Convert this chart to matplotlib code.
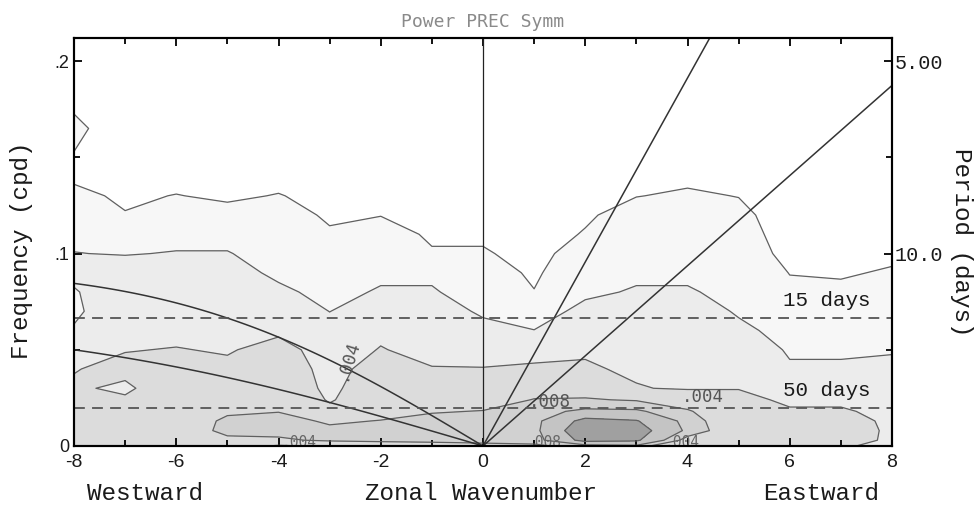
import numpy as np
import matplotlib
matplotlib.use("Agg")
import matplotlib.pyplot as plt

# wavenumber / frequency grid of the symmetric power spectrum (values in 1e-3)
wavenumbers = [-8, -7, -6, -5, -4, -3, -2, -1, 0, 1, 2, 3, 4, 5, 6, 7, 8]
frequencies = [0.0, 0.003, 0.008, 0.013, 0.018, 0.024, 0.03, 0.04, 0.05, 0.06, 0.07,
               0.08, 0.09, 0.1, 0.11, 0.12, 0.13, 0.14, 0.15, 0.165, 0.18, 0.215]

pw_m8 = [5.0, 5.5, 5.5, 5.5, 5.3, 5.0, 4.3, 3.9, 3.2, 2.1, 1.8, 1.9, 2.3, 2.02, 1.8, 1.4, 1.15, 0.9, 0.95, 1.2, 0.8, 0.5]
pw_m7 = [5.2, 5.8, 5.8, 5.5, 5.0, 4.3, 3.6, 4.6, 3.9, 2.9, 2.8, 2.8, 2.5, 1.95, 1.7, 1.03, 0.9, 0.7, 0.6, 0.5, 0.4, 0.3]
pw_m6 = [5.5, 6.5, 6.5, 6.2, 6.0, 5.7, 5.5, 4.9, 4.1, 3.4, 3.0, 2.6, 2.3, 2.05, 1.7, 1.3, 1.02, 0.8, 0.6, 0.5, 0.4, 0.3]
pw_m5 = [6.0, 7.5, 8.6, 8.5, 7.6, 6.6, 5.8, 4.5, 3.8, 3.4, 3.0, 2.7, 2.4, 2.05, 1.7, 1.2, 0.9, 0.7, 0.6, 0.5, 0.4, 0.3]
pw_m4 = [3.5, 7.5, 9.0, 9.0, 7.9, 7.0, 6.0, 5.5, 4.8, 3.6, 3.0, 2.2, 1.8, 1.6, 1.5, 1.3, 1.03, 0.8, 0.6, 0.5, 0.4, 0.3]
pw_m3 = [4.5, 8.5, 8.6, 7.6, 4.8, 3.7, 3.4, 3.2, 3.0, 2.5, 1.98, 1.7, 1.5, 1.3, 1.08, 0.9, 0.8, 0.7, 0.6, 0.5, 0.4, 0.3]
pw_m2 = [6.5, 8.5, 9.0, 8.1, 7.0, 6.3, 5.8, 5.0, 4.1, 3.6, 2.8, 2.1, 1.8, 1.6, 1.3, 0.98, 0.85, 0.7, 0.6, 0.5, 0.4, 0.3]
pw_m1 = [6.5, 8.8, 9.2, 8.8, 7.8, 6.8, 5.4, 4.1, 3.4, 2.9, 2.5, 2.1, 1.8, 1.06, 0.9, 0.8, 0.7, 0.6, 0.5, 0.4, 0.35, 0.3]
pw_0 = [7.0, 9.0, 9.4, 9.0, 8.1, 6.8, 5.5, 4.05, 3.5, 2.3, 1.85, 1.5, 1.3, 1.06, 0.9, 0.8, 0.7, 0.6, 0.5, 0.4, 0.35, 0.3]
pw_p1 = [7.5, 9.0, 9.3, 9.3, 9.2, 8.1, 7.0, 4.4, 3.1, 2.02, 1.5, 1.02, 0.9, 0.8, 0.7, 0.6, 0.5, 0.45, 0.4, 0.35, 0.3, 0.25]
pw_p2 = [9.0, 14.0, 15.5, 14.0, 10.5, 8.2, 7.0, 4.3, 3.7, 3.2, 2.3, 1.8, 1.5, 1.3, 1.05, 0.9, 0.8, 0.7, 0.6, 0.5, 0.4, 0.3]
pw_p3 = [9.5, 13.5, 14.5, 13.2, 10.4, 7.8, 4.15, 3.6, 3.3, 2.9, 2.6, 2.1, 1.8, 1.6, 1.5, 1.3, 0.98, 0.8, 0.6, 0.5, 0.4, 0.3]
pw_p4 = [3.8, 7.0, 9.5, 9.2, 8.3, 6.5, 3.7, 3.4, 3.1, 2.8, 2.5, 2.1, 1.8, 1.6, 1.5, 1.4, 1.1, 0.85, 0.6, 0.5, 0.4, 0.3]
pw_p5 = [4.5, 5.5, 6.0, 5.8, 5.5, 4.8, 3.9, 3.3, 2.9, 2.2, 1.9, 1.7, 1.6, 1.4, 1.3, 1.2, 0.98, 0.8, 0.6, 0.5, 0.4, 0.3]
pw_p6 = [4.3, 5.2, 5.5, 5.0, 4.3, 3.5, 3.1, 2.15, 1.85, 1.7, 1.4, 1.15, 0.98, 0.8, 0.7, 0.6, 0.5, 0.45, 0.4, 0.35, 0.3, 0.25]
pw_p7 = [4.3, 5.0, 5.2, 5.0, 4.3, 3.5, 3.1, 2.15, 1.85, 1.6, 1.35, 1.1, 0.95, 0.8, 0.7, 0.6, 0.5, 0.45, 0.4, 0.35, 0.3, 0.25]
pw_p8 = [3.3, 3.6, 3.6, 3.5, 3.3, 3.0, 2.8, 2.3, 1.9, 1.7, 1.5, 1.25, 1.05, 0.9, 0.8, 0.7, 0.6, 0.5, 0.45, 0.4, 0.35, 0.3]

levels = [0.001, 0.002, 0.004, 0.008, 0.010, 0.013]
shades = ["#ffffff", "#f7f7f7", "#ececec", "#dcdcdc", "#d1d1d1", "#c4c4c4", "#a0a0a0"]

# equivalent depths (m) of the Kelvin / n=1 equatorial Rossby curves
equiv_depths = [12, 50]
ref_periods = [15, 50]  # days

power = np.column_stack([pw_m8, pw_m7, pw_m6, pw_m5, pw_m4, pw_m3, pw_m2, pw_m1, pw_0,
                         pw_p1, pw_p2, pw_p3, pw_p4, pw_p5, pw_p6, pw_p7, pw_p8]) * 1e-3
K, F = np.meshgrid(wavenumbers, frequencies)

mono = "Liberation Mono"
ink = "#1a1a1a"

fig = plt.figure(figsize=(9.77, 5.08), dpi=100)
ax = fig.add_axes([74 / 977, 62 / 508, 818 / 977, 408 / 508])

ax.contourf(K, F, power, levels=[0] + levels + [1], colors=shades)
ax.contour(K, F, power, levels=levels, colors="#606060", linewidths=0.9)

# dispersion curves
g, a, omega = 9.81, 6.371e6, 7.292e-5
beta = 2 * omega / a
to_cpd = 86400 / (2 * np.pi)
k_east = np.linspace(0, 8, 50)
k_west = np.linspace(-8, 0, 80)
for h in equiv_depths:
    c = np.sqrt(g * h)
    ax.plot(k_east, c * k_east / a * to_cpd, color="#333333", lw=1.1)
    kw = k_west / a
    ax.plot(k_west, -beta * kw / (kw ** 2 + 3 * beta / c) * to_cpd, color="#333333", lw=1.1)

ax.axvline(0, color="#222222", lw=0.9)

for p in ref_periods:
    ax.axhline(1 / p, color="#555555", lw=1.3, dashes=(6, 4))
    ax.text(7.58, 1 / p + 0.004, f"{p} days", family=mono, fontsize=15,
            ha="right", va="bottom", color=ink)

# contour labels
lab = dict(family="DejaVu Sans Mono", fontsize=12.5, color="#555555")
small = dict(family="DejaVu Sans Mono", fontsize=10.5, color="#666666")
ax.text(-2.65, 0.045, ".004", rotation=73, ha="center", va="center", **lab)
ax.text(1.3, 0.023, ".008", ha="center", va="center", **lab)
ax.text(4.3, 0.0255, ".004", ha="center", va="center", **lab)
ax.text(-3.6, 0.002, ".004", ha="center", va="center", clip_on=False, **small)
ax.text(1.2, 0.002, ".008", ha="center", va="center", **small)
ax.text(3.9, 0.002, ".004", ha="center", va="center", clip_on=False, **small)

ax.set_xlim(-8, 8)
ax.set_ylim(0, 0.212)
ax.set_xticks(range(-8, 9, 2))
ax.set_xticks(range(-7, 8, 2), minor=True)
ax.set_xticklabels([str(v) for v in range(-8, 9, 2)], family="Liberation Sans", fontsize=14, color=ink)
ax.set_yticks([0, 0.1, 0.2])
ax.set_yticks([0.05, 0.15], minor=True)
ax.set_yticklabels(["0", ".1", ".2"], family="Liberation Sans", fontsize=13, color=ink)
ax.tick_params(which="both", direction="in", top=True, width=1.3)
ax.tick_params(which="major", length=6)
ax.tick_params(which="minor", length=4)
ax.tick_params(axis="x", which="major", pad=6)

axr = ax.twinx()
axr.set_ylim(0, 0.212)
axr.set_yticks([0.1, 0.2])
axr.set_yticks([0.05, 0.15], minor=True)
axr.set_yticklabels(["10.0", "5.00"], family=mono, fontsize=14.5, color=ink)
axr.tick_params(which="both", direction="in", width=1.3, pad=2)
axr.tick_params(which="major", length=6)
axr.tick_params(which="minor", length=4)

for axis in (ax, axr):
    for s in axis.spines.values():
        s.set_linewidth(1.5)

ax.set_title("Power PREC Symm", family="DejaVu Sans Mono", fontsize=13,
             color="#8a8a8a", pad=8)
fig.text(22 / 977, 1 - 250 / 508, "Frequency (cpd)", rotation=90, family=mono,
         fontsize=17.5, ha="center", va="center", color=ink)
fig.text(962 / 977, 1 - 242 / 508, "Period (days)", rotation=270, family=mono,
         fontsize=17.5, ha="center", va="center", color=ink)
fig.text(87 / 977, 1 - 493 / 508, "Westward", family=mono, fontsize=17.5,
         ha="left", va="center", color=ink)
fig.text(481 / 977, 1 - 493 / 508, "Zonal Wavenumber", family=mono, fontsize=17.5,
         ha="center", va="center", color=ink)
fig.text(879 / 977, 1 - 493 / 508, "Eastward", family=mono, fontsize=17.5,
         ha="right", va="center", color=ink)

fig.savefig("out.png", dpi=100)
